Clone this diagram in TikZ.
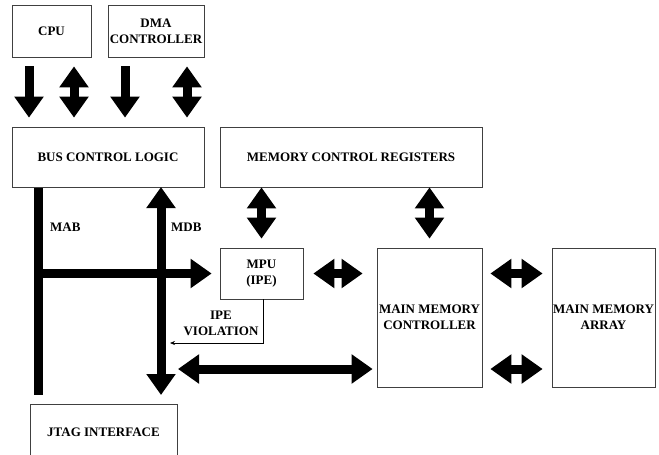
\documentclass[tikz,border=0pt]{standalone}
\usepackage{fontspec}
\setmainfont{Liberation Serif}
\usetikzlibrary{arrows.meta}
\usetikzlibrary{positioning}

\begin{document}
\begin{tikzpicture}[x=1pt,y=-1pt,>={Triangle[width=28pt,length=21pt]},
	blk/.style={draw=black!75, line width=0.7pt, rectangle, inner sep=0pt, align=center, font=\fontsize{13}{16}\selectfont\bfseries},
	bus/.style={line width=9pt},
	lbl/.style={font=\fontsize{13}{16}\selectfont\bfseries, align=center, inner sep=0pt}]
	\useasboundingbox (0,0) rectangle (659,455);
	\clip (0,0) rectangle (659,455);

	\node[blk, minimum width=79pt, minimum height=52pt] (cpu) at (51.5,31) {CPU};
	\node[blk, minimum width=96pt, minimum height=52pt] (dma) at (156,31) {DMA\\CONTROLLER};
	\node[blk, minimum width=192pt, minimum height=60pt] (bcl) at (108,157) {BUS CONTROL LOGIC};
	\node[blk, minimum width=262pt, minimum height=60pt] (mcr) at (351,157) {MEMORY CONTROL REGISTERS};
	\node[blk, minimum width=83pt, minimum height=51pt] (mpu) at (261.5,273.5) {MPU\\(IPE)};
	\node[blk, minimum width=105pt, minimum height=139pt] (mmc) at (429.5,317.5) {MAIN MEMORY\\CONTROLLER};
	\node[blk, minimum width=103pt, minimum height=139pt] (mma) at (603.5,317.5) {MAIN MEMORY\\ARRAY};
	\node[blk, minimum width=147pt, minimum height=56pt] (jtag) at (103.5,432) {JTAG INTERFACE};

	\node[lbl, anchor=west] (mab) at (50,227.5) {MAB};
	\node[lbl, anchor=west] (mdb) at (171,227.5) {MDB};
	\node[lbl] (ipev) at (221,323) {IPE\\VIOLATION};

	% bus end points
	\coordinate (mabtop) at (38,188);
	\coordinate (mabbot) at (38,395);
	\coordinate (mdbtop) at (161,187);
	\coordinate (mdbbot) at (161,395);
	\coordinate (mdbtap) at (161,369);
	\coordinate (viol) at (170,343);

	% cpu and dma to bus control logic
	\draw[bus,->,shorten <=9pt,shorten >=9pt] ([xshift=-22.5pt]cpu.south) -- ([xshift=-22.5pt]cpu.south |- bcl.north);
	\draw[bus,<->,shorten <=9pt,shorten >=9pt] ([xshift=22.5pt]cpu.south) -- ([xshift=22.5pt]cpu.south |- bcl.north);
	\draw[bus,->,shorten <=9pt,shorten >=9pt] ([xshift=-31pt]dma.south) -- ([xshift=-31pt]dma.south |- bcl.north);
	\draw[bus,<->,shorten <=9pt,shorten >=9pt] ([xshift=31pt]dma.south) -- ([xshift=31pt]dma.south |- bcl.north);

	% registers
	\draw[bus,<->,shorten >=9pt] (mcr.south -| mpu.north) -- (mpu.north);
	\draw[bus,<->,shorten >=9pt] (mcr.south -| mmc.north) -- (mmc.north);

	% MAB and MDB
	\draw[bus] (mabtop) -- (mabbot);
	\draw[bus,->,shorten >=8pt] (mabtop |- mpu.west) -- (mpu.west);
	\draw[bus,<->] (mdbtop) -- (mdbbot);
	\draw[bus,<->,shorten <=17pt,shorten >=4pt] (mdbtap) -- (mdbtap -| mmc.west);

	% memory side
	\draw[bus,<->,shorten <=10pt,shorten >=14pt] (mpu.east) -- (mpu.east -| mmc.west);
	\draw[bus,<->,shorten <=8pt,shorten >=9pt] (mmc.east |- mpu.east) -- (mma.west |- mpu.east);
	\draw[bus,<->,shorten <=8pt,shorten >=9pt] (mmc.east |- mdbtap) -- (mma.west |- mdbtap);

	\draw[-{Stealth[length=5pt,width=4pt]}, line width=0.6pt] ([xshift=1.5pt]mpu.south) |- (viol);

\end{tikzpicture}
\end{document}
